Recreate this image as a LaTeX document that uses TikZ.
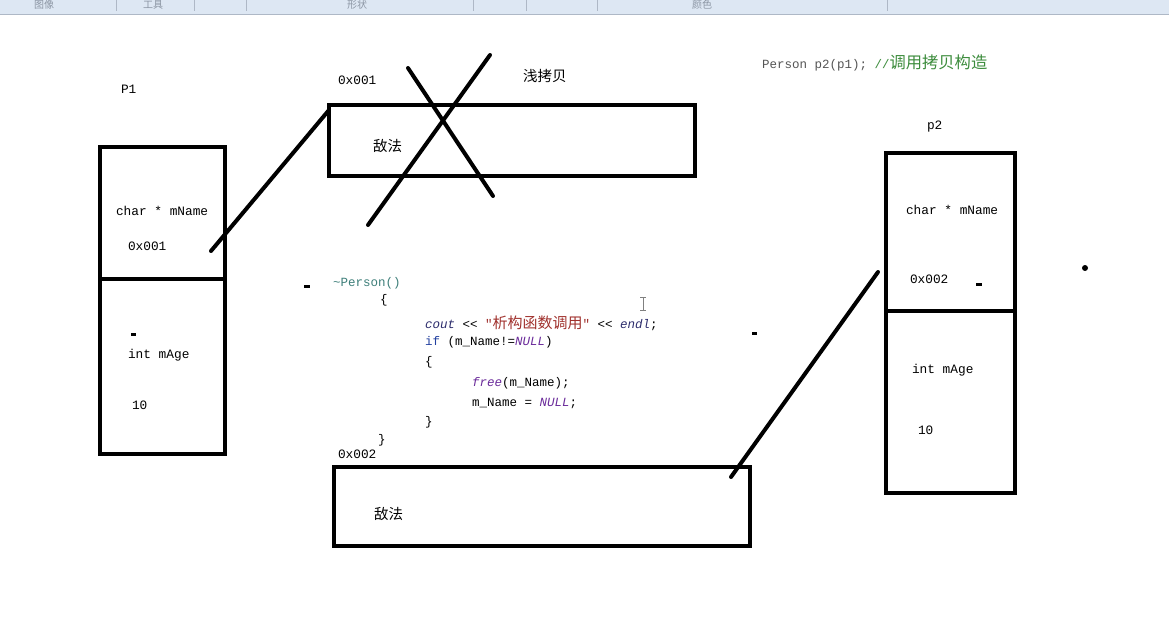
\documentclass[tikz,border=0pt]{standalone}
\usepackage{fontspec}
\setmonofont{Liberation Mono}
\newfontfamily\cjk{Noto Sans CJK SC}
\usetikzlibrary{positioning}

\definecolor{barblue}{HTML}{DDE7F3}
\definecolor{barline}{HTML}{AEB8C6}
\definecolor{bartext}{HTML}{8C96A4}
\definecolor{codeteal}{HTML}{3E7F7A}
\definecolor{codenavy}{HTML}{2C2C6C}
\definecolor{codestr}{HTML}{A0302C}
\definecolor{codekw}{HTML}{2340A0}
\definecolor{codemac}{HTML}{6A2A9A}
\definecolor{cmtgreen}{HTML}{3C8C3C}
\definecolor{plaingray}{HTML}{555555}

\begin{document}
\begin{tikzpicture}[x=1pt, y=-1pt, line width=4pt,
  membox/.style={draw, rectangle, inner sep=0pt, outer sep=0pt, anchor=north west},
  lbl/.style={anchor=west, inner sep=0pt, font=\fontsize{12.8}{14}\selectfont\ttfamily},
  hz/.style={anchor=west, inner sep=0pt, font=\fontsize{14.5}{16}\selectfont\cjk},
  code/.style={anchor=west, inner sep=0pt, font=\fontsize{12.5}{14}\selectfont\ttfamily},
  tool/.style={anchor=center, inner sep=0pt, text=bartext, font=\fontsize{10}{11}\selectfont\cjk},
  ptr/.style={line cap=round}]
\newcommand{\zh}[2][15]{{\fontsize{#1}{16}\selectfont\cjk #2}}

\fill[white] (0,0) rectangle (1169,618);
\useasboundingbox (0,0) rectangle (1169,618);

% toolbar strip
\fill[barblue] (0,0) rectangle (1169,14);
\draw[barline, line width=1.5pt] (0,14.5) -- (1169,14.5);
\foreach \sx in {116,194,246,473,526,597,887}
  \draw[barline, line width=0.6pt] (\sx,0) -- (\sx,11);
\node[tool] (t1) at (44,5) {图像};
\node[tool] (t2) at (153,5) {工具};
\node[tool] (t3) at (357,5) {形状};
\node[tool] (t4) at (702,5) {颜色};

% object p1
\node[membox, minimum width=125pt, minimum height=307pt] (p1) at (100,147) {};
\draw ([yshift=-132pt]p1.north west) -- ([yshift=-132pt]p1.north east);
\node[lbl] (p1name) at (119,89) {P1};
\node[lbl] (p1ptr) at (114,211) {char * mName};
\node[lbl] (p1addr) at (126,246) {0x001};
\node[lbl] (p1age) at (126,355) {int mAge};
\node[lbl] (p1val) at (130,405) {10};

% heap block 0x001 (crossed out)
\node[membox, minimum width=366pt, minimum height=71pt] (h1) at (329,105) {};
\node[lbl] (h1addr) at (336,80) {0x001};
\node[hz] (h1txt) at (371,146) {敌法};
\node[hz] (shallow) at (521,76) {浅拷贝};
\draw[ptr] (408,68) -- (493,196);
\draw[ptr] (490,55) -- (368,225);

% heap block 0x002
\node[membox, minimum width=416pt, minimum height=79pt] (h2) at (334,467) {};
\node[lbl] (h2addr) at (336,454) {0x002};
\node[hz] (h2txt) at (372,514) {敌法};

% object p2
\node[membox, minimum width=129pt, minimum height=340pt] (p2) at (886,153) {};
\draw ([yshift=-158pt]p2.north west) -- ([yshift=-158pt]p2.north east);
\node[lbl] (p2name) at (925,127) {p2};
\node[lbl] (p2ptr) at (904,210) {char * mName};
\node[lbl] (p2addr) at (908,279) {0x002};
\node[lbl] (p2age) at (910,370) {int mAge};
\node[lbl] (p2val) at (916,430) {10};

% pointers
\coordinate (a1) at (211,251);
\draw[ptr] (a1) -- ([yshift=-5pt]h1.north west);
\coordinate (a2) at (731,477);
\coordinate (b2) at (878,272);
\draw[ptr] (a2) -- (b2);

% copy constructor call
\node[code] (call) at (760,63) {\textcolor{plaingray}{Person p2(p1);} \textcolor{cmtgreen}{//\zh[16.3]{调用拷贝构造}}};

% destructor code
\node[code, text=codeteal] (c0) at (331,283) {\textasciitilde Person()};
\node[code] (c1) at (378,300) {\{};
\node[code] (c2) at (423,323) {\textcolor{codenavy}{\itshape cout} <{}< \textcolor{codestr}{"\zh{析构函数调用}"} <{}< \textcolor{codenavy}{\itshape endl};};
\node[code] (c3) at (423,342) {\textcolor{codekw}{if} (m\_Name!=\textcolor{codemac}{\itshape NULL})};
\node[code] (c4) at (423,362) {\{};
\node[code] (c5) at (470,383) {\textcolor{codemac}{\itshape free}(m\_Name);};
\node[code] (c6) at (470,403) {m\_Name = \textcolor{codemac}{\itshape NULL};};
\node[code] (c7) at (423,422) {\}};
\node[code] (c8) at (376,440) {\}};

% text cursor and stray marks
\draw[gray, line width=1pt] (643,297) -- (643,310)
  (640,297) -- (646,297) (640,310) -- (646,310);
\fill (1085,268) circle (3pt);
\fill (304,285) rectangle (310,288);
\fill (131,333) rectangle (136,336);
\fill (976,283) rectangle (982,286);
\fill (752,332) rectangle (757,335);
\end{tikzpicture}
\end{document}
